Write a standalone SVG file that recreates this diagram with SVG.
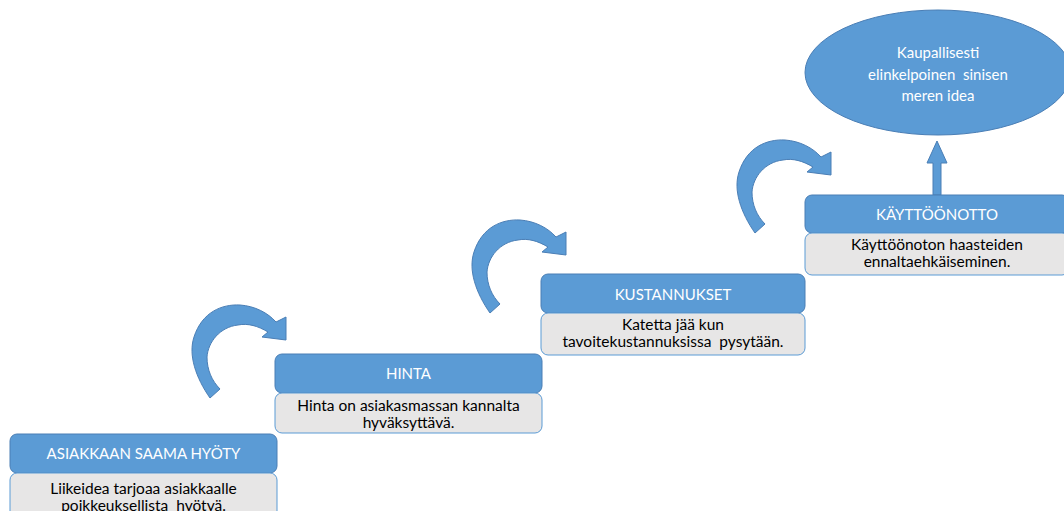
<svg xmlns="http://www.w3.org/2000/svg" width="1064" height="511" viewBox="0 0 1064 511">
<style>
.hdr{fill:#5B9BD5;stroke:#4A7EB5;stroke-width:1}
.desc{fill:#E7E6E6;stroke:#5B9BD5;stroke-width:1}
.ht{font-family:Lato,"Liberation Sans",sans-serif;font-size:15px;fill:#FFFFFF;text-anchor:middle}
.dt{font-family:Lato,"Liberation Sans",sans-serif;font-size:15.5px;fill:#000000;text-anchor:middle}
.arr{fill:#5B9BD5;stroke:#4A7EB5;stroke-width:1}
</style>
<defs>
<path id="curve" d="M210,398 C196,378 188,355 194,337 C202,312 222,304 240,305 C255,306 268,313 276,322 L286,317 L286,340 L262,337 L268,332 C258,326 248,323 238,325 C220,327 208,342 207,357 C207,370 212,381 220,389 Z"/>
</defs>
<rect width="1064" height="511" fill="#FFFFFF"/>
<g id="connectors">
<use href="#curve" class="arr"/>
<use href="#curve" class="arr" transform="translate(280,-85)"/>
<use href="#curve" class="arr" transform="translate(545,-165)"/>
<path class="arr" d="M933,195 L933,163 L927,163 L937,141 L947,163 L941,163 L941,195 Z"/>
</g>
<g id="node-goal">
<ellipse cx="938" cy="72.5" rx="133" ry="62.5" class="hdr"/>
<text class="ht" x="938" y="58">Kaupallisesti</text>
<text class="ht" x="938" y="80" xml:space="preserve">elinkelpoinen  sinisen</text>
<text class="ht" x="938" y="101">meren idea</text>
</g>
<g id="node-hyoty">
<rect x="10" y="434" width="267" height="39" rx="7" class="hdr"/>
<text class="ht" x="143.5" y="459">ASIAKKAAN SAAMA HYÖTY</text>
<rect x="10" y="473" width="267" height="50" rx="7" class="desc"/>
<text class="dt" x="143.5" y="494">Liikeidea tarjoaa asiakkaalle</text>
<text class="dt" x="143.5" y="511" xml:space="preserve">poikkeuksellista  hyötyä.</text>
</g>
<g id="node-hinta">
<rect x="275" y="354" width="267" height="39" rx="7" class="hdr"/>
<text class="ht" x="408.5" y="379">HINTA</text>
<rect x="275" y="393" width="267" height="40" rx="7" class="desc"/>
<text class="dt" x="408.5" y="411">Hinta on asiakasmassan kannalta</text>
<text class="dt" x="408.5" y="428">hyväksyttävä.</text>
</g>
<g id="node-kustannukset">
<rect x="541" y="274" width="264" height="39" rx="7" class="hdr"/>
<text class="ht" x="673" y="300">KUSTANNUKSET</text>
<rect x="541" y="313" width="264" height="42" rx="7" class="desc"/>
<text class="dt" x="673" y="330">Katetta jää kun</text>
<text class="dt" x="673" y="347" xml:space="preserve">tavoitekustannuksissa  pysytään.</text>
</g>
<g id="node-kayttoonotto">
<rect x="805" y="195" width="264" height="38" rx="7" class="hdr"/>
<text class="ht" x="937" y="220">KÄYTTÖÖNOTTO</text>
<rect x="805" y="233" width="264" height="42" rx="7" class="desc"/>
<text class="dt" x="937" y="250">Käyttöönoton haasteiden</text>
<text class="dt" x="937" y="267">ennaltaehkäiseminen.</text>
</g>
</svg>
